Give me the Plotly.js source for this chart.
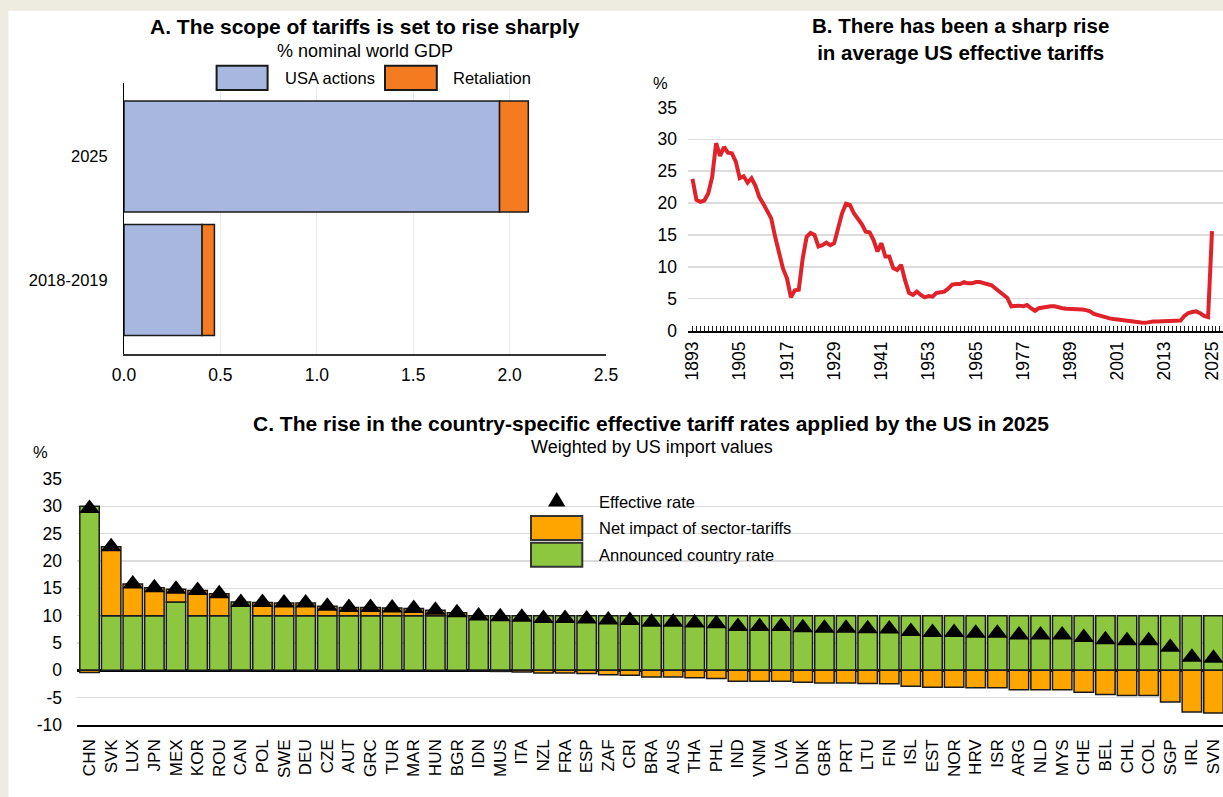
<!DOCTYPE html>
<html>
<head>
<meta charset="utf-8">
<script src="https://cdn.plot.ly/plotly-3.0.1.min.js"></script>
<style>
  html, body { margin: 0; padding: 0; background: #ffffff; }
  #chart { width: 1223px; height: 797px; }
</style>
</head>
<body>
<div id="chart"></div>
<script>
// ---------------- DATA ----------------
// Panel A: scope of tariffs, % nominal world GDP
const scopePeriods = ['2018-2019', '2025'];
const usaActions = [0.405, 1.948];
const retaliation = [0.064, 0.149];

// Panel B: average US effective tariff rate, %
const tariffYears = [
  1893, 1894, 1895, 1896, 1897, 1898, 1899,
  1900, 1901, 1902, 1903, 1904, 1905, 1906, 1907, 1908, 1909,
  1910, 1911, 1912, 1913, 1914, 1915, 1916, 1917, 1918, 1919,
  1920, 1921, 1922, 1923, 1924, 1925, 1926, 1927, 1928, 1929,
  1930, 1931, 1932, 1933, 1934, 1935, 1936, 1937, 1938, 1939,
  1940, 1941, 1942, 1943, 1944, 1945, 1946, 1947, 1948, 1949,
  1950, 1951, 1952, 1953, 1954, 1955, 1956, 1957, 1958, 1959,
  1960, 1961, 1962, 1963, 1964, 1965, 1966, 1967, 1968, 1969,
  1970, 1971, 1972, 1973, 1974, 1975, 1976, 1977, 1978, 1979,
  1980, 1981, 1982, 1983, 1984, 1985, 1986, 1987, 1988, 1989,
  1990, 1991, 1992, 1993, 1994, 1995, 1996, 1997, 1998, 1999,
  2000, 2001, 2002, 2003, 2004, 2005, 2006, 2007, 2008, 2009,
  2010, 2011, 2012, 2013, 2014, 2015, 2016, 2017, 2018, 2019,
  2020, 2021, 2022, 2023, 2024, 2025
];
const usEffectiveTariff = [
  23.8, 20.5, 20.2, 20.4, 21.5, 24.1, 29.4,
  27.4, 28.8, 27.9, 27.8, 26.5, 23.9, 24.2, 23.2, 23.9, 22.7,
  20.9, 19.9, 18.6, 17.6, 14.7, 12.4, 9.7, 8.2, 5.2, 6.3,
  6.4, 11.3, 14.7, 15.3, 15.0, 13.2, 13.4, 13.8, 13.4, 13.7,
  16.3, 18.4, 19.9, 19.7, 18.4, 17.5, 16.7, 15.5, 15.4, 14.2,
  12.4, 13.7, 11.6, 11.6, 9.8, 9.5, 10.3, 7.9, 5.9, 5.6,
  6.1, 5.6, 5.2, 5.4, 5.3, 5.9, 6.0, 6.1, 6.6, 7.2,
  7.3, 7.3, 7.6, 7.4, 7.4, 7.6, 7.6, 7.4, 7.2, 7.1,
  6.6, 6.1, 5.7, 5.1, 3.8, 3.9, 3.9, 3.8, 4.0, 3.5,
  3.1, 3.5, 3.6, 3.8, 3.8, 3.8, 3.6, 3.5, 3.4, 3.4,
  3.3, 3.4, 3.3, 3.2, 3.0, 2.6, 2.4, 2.2, 2.0, 1.9,
  1.8, 1.7, 1.6, 1.5, 1.45, 1.4, 1.35, 1.25, 1.2, 1.35,
  1.4, 1.4, 1.4, 1.45, 1.5, 1.5, 1.5, 1.55, 2.3, 2.75,
  2.9, 3.0, 2.7, 2.3, 2.1, 15.6
];
const tariffYearTicks = [1893, 1905, 1917, 1929, 1941, 1953, 1965, 1977, 1989, 2001, 2013, 2025];

// Panel C: country-specific effective tariff rates applied by the US in 2025, %
const countries = [
  'CHN','SVK','LUX','JPN','MEX','KOR','ROU','CAN','POL','SWE','DEU','CZE','AUT','GRC','TUR','MAR',
  'HUN','BGR','IDN','MUS','ITA','NZL','FRA','ESP','ZAF','CRI','BRA','AUS','THA','PHL','IND','VNM',
  'LVA','DNK','GBR','PRT','LTU','FIN','ISL','EST','NOR','HRV','ISR','ARG','NLD','MYS','CHE','BEL',
  'CHL','COL','SGP','IRL','SVN'
];
const announcedRate = [
  30, 10, 10, 10, 12.5, 10, 10, 12.5, 10, 10, 10, 10, 10, 10, 10, 10,
  10, 10, 10, 10, 10, 10, 10, 10, 10, 10, 10, 10, 10, 10, 10, 10,
  10, 10, 10, 10, 10, 10, 10, 10, 10, 10, 10, 10, 10, 10, 10, 10,
  10, 10, 10, 10, 10
];
const sectorNetImpact = [
  -0.4, 12.6, 5.8, 5.1, 2.35, 4.6, 4.0, -0.1, 2.4, 2.3, 2.3, 1.7, 1.5, 1.5, 1.4, 1.3,
  1.0, 0.55, -0.05, -0.2, -0.3, -0.5, -0.5, -0.6, -0.8, -0.9, -1.2, -1.2, -1.35, -1.5, -2.0, -2.0,
  -2.0, -2.2, -2.3, -2.3, -2.4, -2.45, -2.9, -3.1, -3.1, -3.2, -3.2, -3.55, -3.55, -3.55, -4.0, -4.4,
  -4.6, -4.6, -5.8, -7.6, -7.8
];
const effectiveRate = [
  29.6, 22.6, 15.8, 15.1, 14.85, 14.6, 14.0, 12.4, 12.4, 12.3, 12.3, 11.7, 11.5, 11.5, 11.4, 11.3,
  11.0, 10.55, 9.95, 9.8, 9.7, 9.5, 9.5, 9.4, 9.2, 9.1, 8.8, 8.8, 8.65, 8.5, 8.0, 8.0,
  8.0, 7.8, 7.7, 7.7, 7.6, 7.55, 7.1, 6.9, 6.9, 6.8, 6.8, 6.45, 6.45, 6.45, 6.0, 5.6,
  5.4, 5.4, 4.2, 2.4, 2.2
];
const panelCTickVals = [-10, -5, 0, 5, 10, 15, 20, 25, 30, 35];
const panelCTickText = ['-10', '-5', '0', '5', '10', '15', '20', '25', '30', '35'];

// ---------------- LAYOUT HELPERS ----------------
const W = 1223, H = 797;
const px = v => v / W;
const py = v => 1 - v / H;
const FONT = 'Liberation Sans, Arial, sans-serif';

const blue = '#a7b7e0', orangeA = '#f47b20';
const green = '#8dc63f', orangeC = '#ffa500';
const outline = '#1a1a1a';
const gridGrey = '#dcdcdc';

const traces = [
  // Panel A
  { type: 'bar', orientation: 'h', name: 'USA actions', y: scopePeriods, x: usaActions,
    xaxis: 'x', yaxis: 'y', width: 0.9,
    marker: { color: blue, line: { color: outline, width: 1.5 } }, showlegend: false },
  { type: 'bar', orientation: 'h', name: 'Retaliation', y: scopePeriods, x: retaliation,
    xaxis: 'x', yaxis: 'y', width: 0.9,
    marker: { color: orangeA, line: { color: outline, width: 1.5 } }, showlegend: false },
  // Panel B
  { type: 'scatter', mode: 'lines', name: 'US effective tariff', x: tariffYears, y: usEffectiveTariff,
    xaxis: 'x2', yaxis: 'y2', line: { color: '#e0232b', width: 4 }, showlegend: false },
  // Panel C
  { type: 'bar', name: 'Announced country rate', x: countries, y: announcedRate,
    xaxis: 'x3', yaxis: 'y3', width: 0.9,
    marker: { color: green, line: { color: outline, width: 1.5 } }, showlegend: false },
  { type: 'bar', name: 'Net impact of sector-tariffs', x: countries, y: sectorNetImpact,
    xaxis: 'x3', yaxis: 'y3', width: 0.9,
    marker: { color: orangeC, line: { color: outline, width: 1.5 } }, showlegend: false },
  { type: 'scatter', mode: 'markers', name: 'Effective rate', x: countries, y: effectiveRate,
    xaxis: 'x3', yaxis: 'y3', cliponaxis: false,
    marker: { symbol: 'triangle-up', size: 18, color: '#000000', line: { width: 0 } }, showlegend: false }
];

const tickFont = { family: FONT, size: 17.5, color: '#000' };

const layout = {
  width: W, height: H,
  margin: { l: 0, r: 0, t: 0, b: 0, pad: 0 },
  paper_bgcolor: '#ffffff',
  plot_bgcolor: 'rgba(0,0,0,0)',
  barmode: 'relative',
  showlegend: false,
  hovermode: false,
  font: { family: FONT, color: '#000' },

  // Panel A axes
  xaxis: {
    domain: [px(124), px(606)], anchor: 'y', range: [0, 2.5],
    tickvals: [0, 0.5, 1, 1.5, 2, 2.5], tickformat: '.1f',
    showgrid: true, gridcolor: '#ebebf3', gridwidth: 1, zeroline: false,
    showline: true, linecolor: '#333', linewidth: 1.5, ticks: '',
    ticklabelstandoff: 4, ticklabeloverflow: 'allow', tickfont: tickFont
  },
  yaxis: {
    domain: [py(354), py(83)], anchor: 'x', type: 'category',
    categoryorder: 'array', categoryarray: scopePeriods, range: [-0.6, 1.596],
    showgrid: false, zeroline: false, showline: true, linecolor: '#000', linewidth: 1,
    ticks: '', ticklabelstandoff: 12, tickfont: { family: FONT, size: 16.5, color: '#000' }
  },

  // Panel B axes
  xaxis2: {
    domain: [px(688), 1], anchor: 'y2', range: [1891.857, 2027.79],
    tickmode: 'array', tickvals: tariffYearTicks, tickangle: -90,
    ticks: 'inside', ticklen: 5, tickwidth: 1, tickcolor: '#222',
    minor: { dtick: 1, tick0: 1893, ticks: 'inside', ticklen: 5, tickwidth: 1, tickcolor: '#222', showgrid: false },
    showgrid: false, zeroline: false, showline: true, linecolor: '#000', linewidth: 2,
    ticklabelstandoff: 2, ticklabeloverflow: 'allow', tickfont: tickFont
  },
  yaxis2: {
    domain: [py(330.5), py(107.5)], anchor: 'x2', range: [0, 35], dtick: 5, tick0: 0,
    showgrid: true, gridcolor: gridGrey, gridwidth: 1.5, zeroline: false, showline: false,
    ticks: '', ticklabelstandoff: 10, tickfont: tickFont
  },

  // Panel C axes
  xaxis3: {
    domain: [px(77), 1], anchor: 'y3', range: [-0.58, 52.44], type: 'category',
    tickangle: -90, ticks: '', showgrid: false, zeroline: false,
    showline: true, linecolor: '#000', linewidth: 1.5,
    ticklabelstandoff: 6, ticklabeloverflow: 'allow', tickfont: { family: FONT, size: 17, color: '#000' }
  },
  yaxis3: {
    domain: [py(725), py(479)], anchor: 'x3', range: [-10, 35],
    tickmode: 'array', tickvals: panelCTickVals, ticktext: panelCTickText,
    showgrid: true, gridcolor: gridGrey, gridwidth: 1.5,
    zeroline: true, zerolinecolor: '#000', zerolinewidth: 3, showline: false,
    ticks: '', ticklabelstandoff: 14, tickfont: tickFont
  },

  shapes: [
    // beige frame strips
    { type: 'rect', xref: 'paper', yref: 'paper', x0: 0, x1: 1, y0: py(10.7), y1: 1,
      fillcolor: '#eeebe1', line: { width: 0 }, layer: 'above' },
    { type: 'rect', xref: 'paper', yref: 'paper', x0: 0, x1: px(8.5), y0: 0, y1: 1,
      fillcolor: '#eeebe1', line: { width: 0 }, layer: 'above' },
    // Panel A legend swatches
    { type: 'rect', xref: 'paper', yref: 'paper', x0: px(216.6), x1: px(267.6), y0: py(90), y1: py(65.7),
      fillcolor: blue, line: { color: outline, width: 2 }, layer: 'above' },
    { type: 'rect', xref: 'paper', yref: 'paper', x0: px(385), x1: px(436.8), y0: py(90), y1: py(65.7),
      fillcolor: orangeA, line: { color: outline, width: 2 }, layer: 'above' },
    // Panel C legend swatches
    { type: 'path', xref: 'paper', yref: 'paper',
      path: 'M ' + px(548) + ',' + py(506.5) + ' L ' + px(565.4) + ',' + py(506.5) + ' L ' + px(556.7) + ',' + py(492) + ' Z',
      fillcolor: '#000', line: { width: 0 }, layer: 'above' },
    { type: 'rect', xref: 'paper', yref: 'paper', x0: px(531), x1: px(582.3), y0: py(540), y1: py(516),
      fillcolor: orangeC, line: { color: '#333', width: 2 }, layer: 'above' },
    { type: 'rect', xref: 'paper', yref: 'paper', x0: px(531), x1: px(582.3), y0: py(566.7), y1: py(542.7),
      fillcolor: green, line: { color: '#333', width: 2 }, layer: 'above' }
  ],

  annotations: [
    // Panel A
    { xref: 'paper', yref: 'paper', x: px(364.6), y: py(26.7), xanchor: 'center', yanchor: 'middle',
      text: '<b>A. The scope of tariffs is set to rise sharply</b>', showarrow: false,
      font: { family: FONT, size: 21, color: '#000' } },
    { xref: 'paper', yref: 'paper', x: px(365), y: py(50.7), xanchor: 'center', yanchor: 'middle',
      text: '% nominal world GDP', showarrow: false, font: { family: FONT, size: 18, color: '#000' } },
    { xref: 'paper', yref: 'paper', x: px(282.6), y: py(78), xanchor: 'left', yanchor: 'middle',
      text: 'USA actions', showarrow: false, font: { family: FONT, size: 16.5, color: '#000' } },
    { xref: 'paper', yref: 'paper', x: px(451), y: py(78), xanchor: 'left', yanchor: 'middle',
      text: 'Retaliation', showarrow: false, font: { family: FONT, size: 16.5, color: '#000' } },
    // Panel B
    { xref: 'paper', yref: 'paper', x: px(960), y: py(39.5), xanchor: 'center', yanchor: 'middle',
      text: '<b>B. There has been a sharp rise<br>in average US effective tariffs</b>', showarrow: false,
      font: { family: FONT, size: 20.5, color: '#000' } },
    { xref: 'paper', yref: 'paper', x: px(660), y: py(83), xanchor: 'center', yanchor: 'middle',
      text: '%', showarrow: false, font: { family: FONT, size: 16.5, color: '#000' } },
    // Panel C
    { xref: 'paper', yref: 'paper', x: px(650.5), y: py(424), xanchor: 'center', yanchor: 'middle',
      text: '<b>C. The rise in the country-specific effective tariff rates applied by the US in 2025</b>', showarrow: false,
      font: { family: FONT, size: 21, color: '#000' } },
    { xref: 'paper', yref: 'paper', x: px(651.7), y: py(447.3), xanchor: 'center', yanchor: 'middle',
      text: 'Weighted by US import values', showarrow: false, font: { family: FONT, size: 18, color: '#000' } },
    { xref: 'paper', yref: 'paper', x: px(40), y: py(452), xanchor: 'center', yanchor: 'middle',
      text: '%', showarrow: false, font: { family: FONT, size: 16.5, color: '#000' } },
    { xref: 'paper', yref: 'paper', x: px(597), y: py(501.7), xanchor: 'left', yanchor: 'middle',
      text: 'Effective rate', showarrow: false, font: { family: FONT, size: 16.5, color: '#000' } },
    { xref: 'paper', yref: 'paper', x: px(597), y: py(528.3), xanchor: 'left', yanchor: 'middle',
      text: 'Net impact of sector-tariffs', showarrow: false, font: { family: FONT, size: 16.5, color: '#000' } },
    { xref: 'paper', yref: 'paper', x: px(597), y: py(555), xanchor: 'left', yanchor: 'middle',
      text: 'Announced country rate', showarrow: false, font: { family: FONT, size: 16.5, color: '#000' } }
  ]
};

Plotly.newPlot('chart', traces, layout, { staticPlot: true, displayModeBar: false, responsive: false });
</script>
</body>
</html>
